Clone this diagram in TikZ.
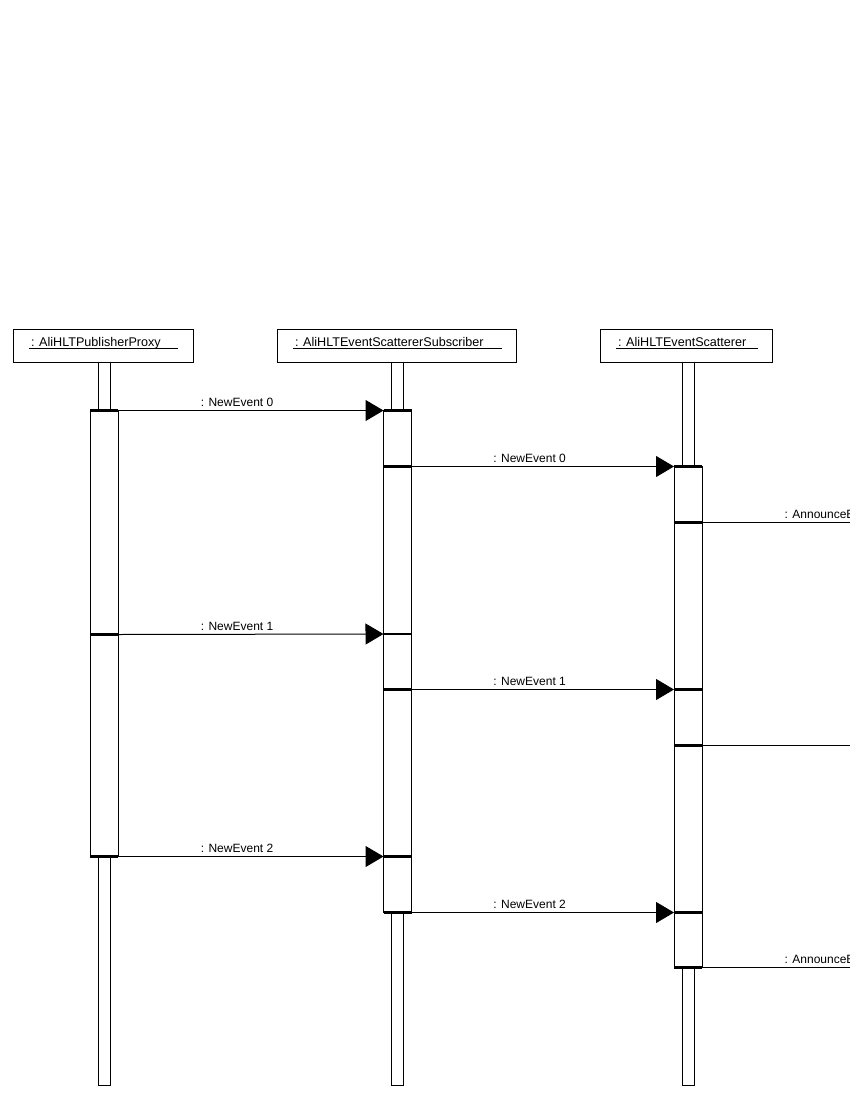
\documentclass[tikz,border=0pt]{standalone}
\usepackage{fontspec}
\setmainfont{Liberation Sans}
\usetikzlibrary{arrows.meta,calc}
\newcommand\hdrul[2]{\makebox[#2][l]{\rlap{\rule[-2.6pt]{#2}{0.7pt}}\hspace{2pt}#1}}
\begin{document}
\begin{tikzpicture}[x=1pt,y=-1pt,
  hdr/.style={draw=black, line width=1pt, fill=white, inner sep=0pt, outer sep=0pt, minimum height=33pt},
  htxt/.style={font=\fontsize{12.6}{14}\selectfont, inner sep=0pt, outer sep=0pt, anchor=base},
  life/.style={draw, line width=0.9pt, fill=white, inner sep=0pt, outer sep=0pt, minimum width=12pt, minimum height=723pt, anchor=north},
  act/.style={draw, line width=1pt, fill=white, inner sep=0pt, outer sep=0pt, minimum width=28pt, minimum height=#1, anchor=north},
  div/.style={line width=2.2pt},
  msg/.style={line width=1pt, -{Triangle[length=18pt,width=21pt]}},
  lbl/.style={font=\fontsize{12}{14}\selectfont, inner sep=0pt, anchor=base west, pos=0.31, yshift=4pt}
]
\useasboundingbox (0,0) rectangle (850,1100);
\clip (0,0) rectangle (850,1100);

% headers
\node[hdr, minimum width=180pt] (h1) at (103,345.5) {};
\node[htxt] (t1) at (103.5,346) {\hdrul{: AliHLTPublisherProxy}{149pt}};
\node[hdr, minimum width=239pt] (h2) at (397,345.5) {};
\node[htxt] (t2) at (397.5,346) {\hdrul{: AliHLTEventScattererSubscriber}{209pt}};
\node[hdr, minimum width=172pt] (h3) at (686.5,345.5) {};
\node[htxt] (t3) at (687,346) {\hdrul{: AliHLTEventScatterer}{142pt}};

% lifelines
\node[life] (l1) at (104,362) {};
\node[life] (l2) at (397.5,362) {};
\node[life] (l3) at (688,362) {};

% activations
\node[act=224pt] (a1s1) at (104,410.5) {};
\node[act=222pt] (a1s2) at (a1s1.south) {};

\node[act=56pt] (a2s1) at (397.5,410.5) {};
\node[act=167.5pt] (a2s2) at (a2s1.south) {};
\node[act=55.5pt] (a2s3) at (a2s2.south) {};
\node[act=167pt] (a2s4) at (a2s3.south) {};
\node[act=56pt] (a2s5) at (a2s4.south) {};

\node[act=56pt] (a3s1) at (688,466.5) {};
\node[act=167pt] (a3s2) at (a3s1.south) {};
\node[act=56pt] (a3s3) at (a3s2.south) {};
\node[act=167pt] (a3s4) at (a3s3.south) {};
\node[act=55pt] (a3s5) at (a3s4.south) {};

\foreach \s in {a1s1,a1s2,a2s1,a2s2,a2s3,a2s4,a2s5,a3s1,a3s2,a3s3,a3s4,a3s5}
  \draw[div] (\s.north west) -- (\s.north east);
\foreach \s in {a1s2,a2s5,a3s5}
  \draw[div] (\s.south west) -- (\s.south east);

% off-canvas ends
\coordinate (r1) at ($(a3s2.north east)+(265,0)$);
\coordinate (r2) at ($(a3s4.north east)+(265,0)$);
\coordinate (r3) at ($(a3s5.south east)+(265,0)$);

% messages
\draw[msg] (a1s1.north east) -- node[lbl]{: NewEvent 0} (a2s1.north west);
\draw[msg] (a2s2.north east) -- node[lbl]{: NewEvent 0} (a3s1.north west);
\draw[msg] (a3s2.north east) -- node[lbl]{: AnnounceEvent} (r1);
\draw[msg] (a1s2.north east) -- node[lbl]{: NewEvent 1} (a2s3.north west);
\draw[msg] (a2s4.north east) -- node[lbl]{: NewEvent 1} (a3s3.north west);
\draw[msg] (a3s4.north east) -- (r2);
\draw[msg] (a1s2.south east) -- node[lbl]{: NewEvent 2} (a2s5.north west);
\draw[msg] (a2s5.south east) -- node[lbl]{: NewEvent 2} (a3s5.north west);
\draw[msg] (a3s5.south east) -- node[lbl]{: AnnounceEvent} (r3);
\end{tikzpicture}
\end{document}
